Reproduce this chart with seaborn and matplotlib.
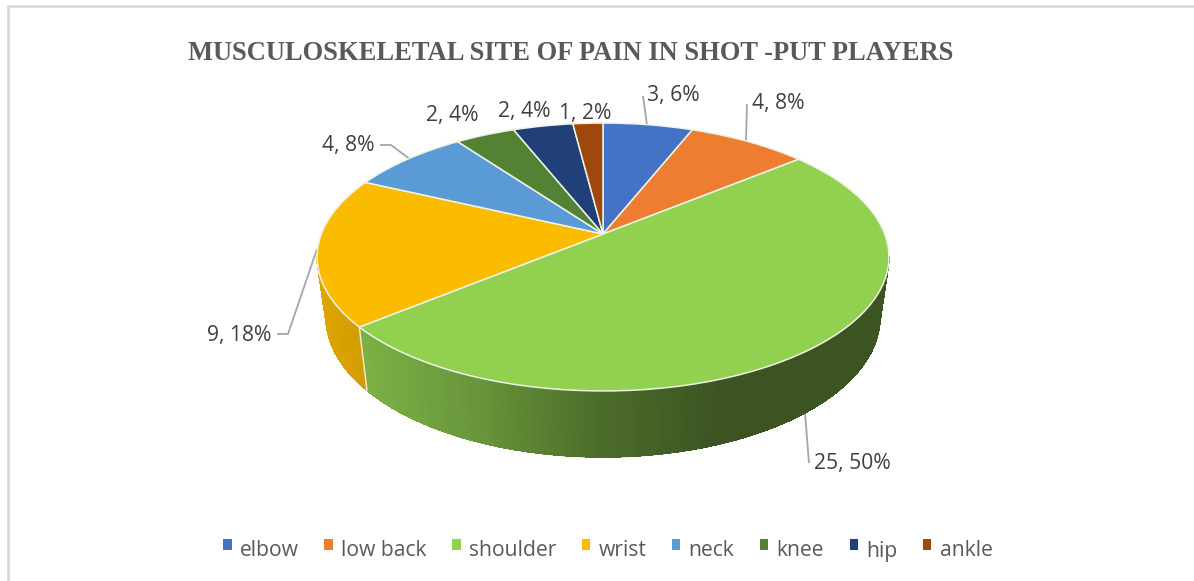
import numpy as np
import matplotlib
matplotlib.use("Agg")
import matplotlib.pyplot as plt
import seaborn as sns
from matplotlib.collections import PolyCollection, LineCollection
from matplotlib.colors import LinearSegmentedColormap
from matplotlib.transforms import Transform

categories = ["elbow", "low back", "shoulder", "wrist", "neck", "knee", "hip", "ankle"]
counts = [3, 4, 25, 9, 4, 2, 2, 1]
colors = ["#4472C4", "#ED7D31", "#92D050", "#FBBC00", "#5B9BD5", "#548235", "#21407A", "#9E480E"]
title = "MUSCULOSKELETAL SITE OF PAIN IN SHOT -PUT PLAYERS"

sns.set_theme(style="white")
plt.rcParams["font.family"] = ["Open Sans", "DejaVu Sans"]

# perspective of the pie's top face, in picture pixels
CX, CY, A, B, K = 603.0, 234.0, 281.7, 130.0, 0.1716


class TopFace(Transform):
    input_dims = output_dims = 2
    is_separable = False
    has_inverse = False

    def transform_non_affine(self, xy):
        xy = np.asarray(xy, dtype=float)
        w = 1 + K * xy[:, 1]
        return np.column_stack([CX + A * xy[:, 0] / w, CY - B * xy[:, 1] / w])


def wall_strips(frac0, frac1, n=260):
    """Quadrilaterals of the outer wall between two cumulative fractions."""
    fr = np.linspace(frac0, frac1, n)
    t = np.pi / 2 - 2 * np.pi * fr
    top = TopFace().transform_non_affine(np.column_stack([np.cos(t), np.sin(t)]))
    c = (top[:, 0] - 603) / 286
    s = (top[:, 1] - 257) / 134
    bot = np.column_stack([603 + 277 * c, 317 + 140 * s])
    polys, xs = [], []
    for i in range(n - 1):
        if top[i, 1] < 257 and top[i + 1, 1] < 257:
            continue
        polys.append([top[i], top[i + 1], bot[i + 1], bot[i]])
        xs.append((top[i, 0] + top[i + 1, 0]) / 2)
    return polys, np.array(xs)


def draw_wall(polys, shades):
    ax.add_collection(PolyCollection(polys, facecolors=shades, edgecolors=shades,
                                     linewidths=0.5, antialiaseds=False, zorder=2))
    rim = [[q[3], q[2]] for q in polys] + [[polys[0][0], polys[0][3]], [polys[-1][1], polys[-1][2]]]
    rim_cols = list(shades) + [shades[0], shades[-1]]
    ax.add_collection(LineCollection(rim, colors=rim_cols, linewidths=1.0, zorder=2))


fig = plt.figure(figsize=(11.94, 5.81), dpi=100, facecolor="white")
ax = fig.add_axes([0, 0, 1, 1])

palette = sns.color_palette(colors)
wedges, _ = ax.pie(counts, colors=palette, startangle=90, counterclock=False,
                   wedgeprops=dict(edgecolor="#EEF3E6", linewidth=1.1, zorder=3))
face = TopFace() + ax.transData
for w in wedges:
    w.set_transform(face)
    w.set_clip_on(False)

ax.set_aspect("auto")
ax.set_xlim(0, 1194)
ax.set_ylim(581, 0)
ax.set_position([0, 0, 1, 1])

# side walls
cum = np.cumsum(counts) / np.sum(counts)
cmap = LinearSegmentedColormap.from_list(
    "wall", [(0.0, "#7BB045"), (0.33, "#67933A"), (0.66, "#4B6C2A"), (1.0, "#3C5322")])

p, x = wall_strips(cum[1], cum[2])
draw_wall(p, cmap(np.clip((x - 363) / (725 - 363), 0, 1)))

p, x = wall_strips(cum[2], cum[3])
draw_wall(p, LinearSegmentedColormap.from_list("w2", ["#DDA500", "#D29C00"])((x - 318) / 45))
ax.plot([p[0][0][0], p[0][3][0]], [p[0][0][1], p[0][3][1]], color="#E6E9D2", lw=1.1, zorder=2.5)

# leader lines
grey = "#A6A6A6"
leaders = [
    ([643, 647], [96, 125]),
    ([747, 746], [104, 142]),
    ([805, 809], [413, 463]),
    ([277, 288, 317], [334, 334, 249]),
    ([380, 391, 411], [145, 145, 160]),
]
for lx, ly in leaders:
    ax.plot(lx, ly, color=grey, lw=1.3, zorder=1.5, solid_capstyle="butt")

# data labels
total = sum(counts)
label_pos = [(673, 96), (778, 104), (852, 463), (239, 335), (348, 145), (452, 115), (524, 111), (585, 113)]
for v, (lx, ly) in zip(counts, label_pos):
    ax.text(lx, ly, f"{v}, {round(100 * v / total)}%", ha="center", va="center",
            fontsize=15.2, color="#404040", zorder=5)

ax.text(571, 54, title, ha="center", va="center", fontsize=19.1, fontweight="bold",
        family="Liberation Serif", color="#595959")

# outer chart frame
ax.plot([8, 8, 1194], [581, 6, 6], color="#D9D9D9", lw=2.0, zorder=1, solid_joinstyle="miter")

leg = ax.legend(wedges, categories, loc="center", bbox_to_anchor=(608 / 1194, 1 - 551 / 581),
                bbox_transform=fig.transFigure, ncol=8, frameon=False, fontsize=15.2,
                labelcolor="#595959", handlelength=0.4, handleheight=0.4, handletextpad=0.4,
                columnspacing=1.2, borderpad=0)
for h in leg.legend_handles:
    h.set_edgecolor("none")
    h.set_y(h.get_y() + 3)

fig.savefig("out.png", dpi=100, facecolor="white")
